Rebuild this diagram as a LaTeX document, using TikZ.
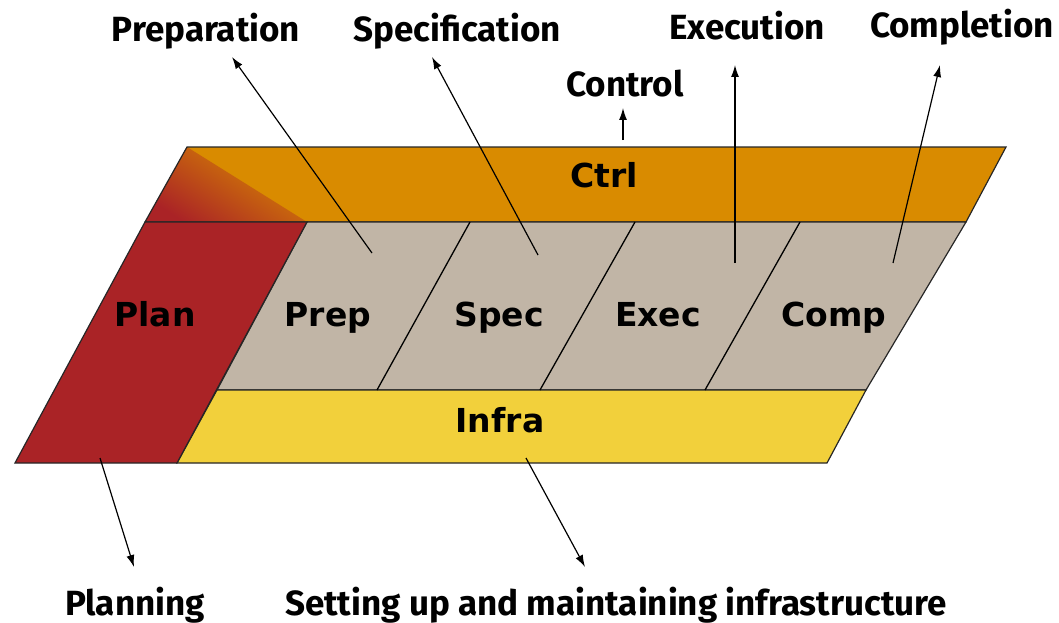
\documentclass[tikz,border=0pt]{standalone}
\usepackage{fontspec}
\setmainfont{Fira Sans}
\newfontfamily\boxfont{DejaVu Sans}
\usepackage{tikz}
\usetikzlibrary{arrows.meta, positioning, calc}

\definecolor{ctrlorange}{RGB}{217,139,0}
\definecolor{planred}{RGB}{170,35,38}
\definecolor{phasegray}{RGB}{193,181,166}
\definecolor{infrayellow}{RGB}{242,208,59}

\tikzset{
  band/.style={draw=black!85, line width=1.2pt, line join=miter},
  boxlbl/.style={font=\boxfont\bfseries\fontsize{33}{36}\selectfont, inner sep=0pt, anchor=base},
  phaselbl/.style={font=\bfseries\fontsize{35}{38}\selectfont, inner sep=0pt, anchor=base},
  pointer/.style={-{Latex[length=12pt,width=8pt]}, line width=1.2pt},
  divider/.style={line width=1.3pt}
}

\begin{document}
\begin{tikzpicture}[x=1pt,y=-1pt]
\useasboundingbox (0,0) rectangle (1059,623);

\fill[ctrlorange] (187,147) -- (1006,147) -- (966,222) -- (145,222) -- cycle;
\shade[top color=ctrlorange, bottom color=planred, shading angle=-33] (187,147) -- (307,222) -- (145,222) -- cycle;
\draw[band] (187,147) -- (1006,147) -- (966,222) -- (145,222) -- cycle;
\filldraw[band, fill=phasegray] (307,222) -- (966,222) -- (866,390) -- (217,390) -- cycle;
\filldraw[band, fill=infrayellow] (217,390) -- (866,390) -- (827,463) -- (177,463) -- cycle;
\filldraw[band, fill=planred] (145,222) -- (307,222) -- (177,463) -- (15,463) -- cycle;
\foreach \xt/\xb in {470/377, 635/540, 800/705}
  \draw[divider] (\xt,222) -- (\xb,390);

\node[boxlbl] (ctrl) at (604,187) {Ctrl};
\node[boxlbl] (plan) at (155,326) {Plan};
\node[boxlbl] (prep) at (328,326) {Prep};
\node[boxlbl] (spec) at (499,326) {Spec};
\node[boxlbl] (exec) at (658,326) {Exec};
\node[boxlbl] (comp) at (834,326) {Comp};
\node[boxlbl] (infra) at (500,432) {Infra};

\node[phaselbl] (preparation) at (206,42) {Preparation};
\node[phaselbl] (specification) at (457,42) {Specification};
\node[phaselbl] (control) at (625,97) {Control};
\node[phaselbl] (execution) at (747,40) {Execution};
\node[phaselbl] (completion) at (962,38) {Completion};
\node[phaselbl] (planning) at (135,615) {Planning};
\node[phaselbl] (setup) at (616,615) {Setting up and maintaining infrastructure};

\coordinate (prepfoot) at (372,253);
\coordinate (prephead) at (232,57);
\coordinate (specfoot) at (538,255);
\coordinate (spechead) at (432,57);
\coordinate (ctrlfoot) at (623,140);
\coordinate (ctrlhead) at (623,108);
\coordinate (execfoot) at (735,263);
\coordinate (exechead) at (735,65);
\coordinate (compfoot) at (893,263);
\coordinate (comphead) at (940,65);
\coordinate (planfoot) at (100,458);
\coordinate (planhead) at (134,567);
\coordinate (infrafoot) at (526,458);
\coordinate (infrahead) at (585,567);

\foreach \a in {prep, spec, ctrl, exec, comp, plan, infra}
  \draw[pointer] (\a foot) -- (\a head);
\end{tikzpicture}
\end{document}
